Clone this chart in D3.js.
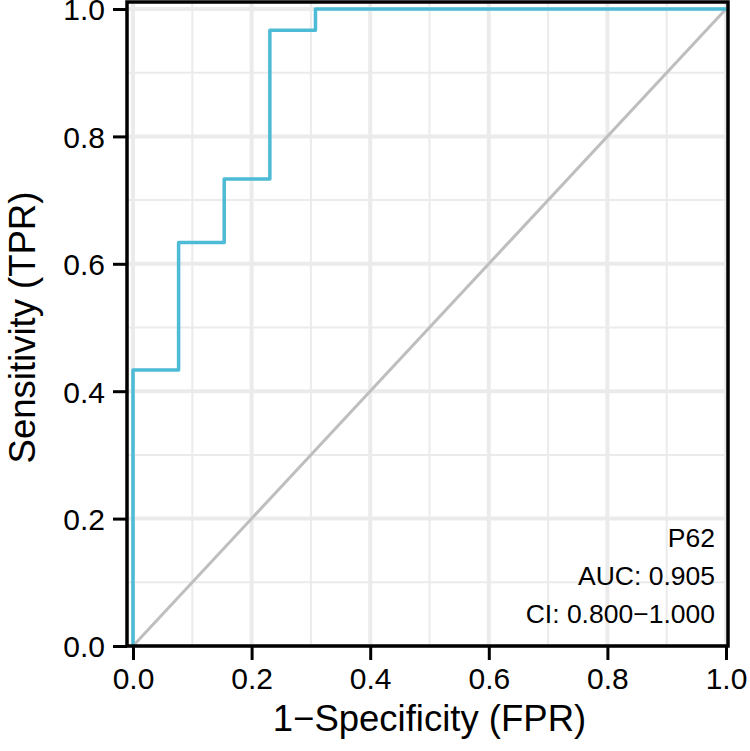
<!DOCTYPE html>
<html><head><meta charset="utf-8">
<script src="https://cdn.jsdelivr.net/npm/d3@7"></script>
<style>body{margin:0;background:#fff;} text{font-family:"Liberation Sans",Arial,sans-serif;}</style>
</head><body><svg id="c" width="750" height="751"></svg>
<script>
const fpr = [0, 0, 0.0769, 0.0769, 0.1538, 0.1538, 0.2308, 0.2308, 0.3077, 0.3077, 1];
const tpr = [0, 0.4333, 0.4333, 0.6333, 0.6333, 0.7333, 0.7333, 0.9667, 0.9667, 1, 1];
const ticks = [0, 0.2, 0.4, 0.6, 0.8, 1.0];
const minorTicks = [0.1, 0.3, 0.5, 0.7, 0.9];
const annot = ["P62", "AUC: 0.905", "CI: 0.800\u22121.000"];

const svg = d3.select("#c");
const x = d3.scaleLinear().domain([0, 1]).range([133, 726]);
const y = d3.scaleLinear().domain([0, 1]).range([646, 9]);
const panel = {l: 127, t: 2, r: 728, b: 646};

const g = svg.append("g");
g.selectAll(".mx").data(minorTicks).join("line")
  .attr("x1", d => x(d)).attr("x2", d => x(d)).attr("y1", panel.t).attr("y2", panel.b)
  .attr("stroke", "#ebebeb").attr("stroke-width", 2);
g.selectAll(".my").data(minorTicks).join("line")
  .attr("y1", d => y(d)).attr("y2", d => y(d)).attr("x1", panel.l).attr("x2", panel.r)
  .attr("stroke", "#ebebeb").attr("stroke-width", 2);
g.selectAll(".Mx").data(ticks).join("line")
  .attr("x1", d => x(d)).attr("x2", d => x(d)).attr("y1", panel.t).attr("y2", panel.b)
  .attr("stroke", "#ebebeb").attr("stroke-width", 4);
g.selectAll(".My").data(ticks).join("line")
  .attr("y1", d => y(d)).attr("y2", d => y(d)).attr("x1", panel.l).attr("x2", panel.r)
  .attr("stroke", "#ebebeb").attr("stroke-width", 4);

svg.append("line").attr("x1", x(0)).attr("y1", y(0)).attr("x2", x(1)).attr("y2", y(1))
  .attr("stroke", "#bebebe").attr("stroke-width", 3);

const pts = fpr.map((f, i) => [f, tpr[i]]);
svg.append("path").datum(pts)
  .attr("d", d3.line().x(d => x(d[0])).y(d => y(d[1])))
  .attr("fill", "none").attr("stroke", "#4DBBD5").attr("stroke-width", 3.5)
  .attr("stroke-linejoin", "round");

svg.append("rect").attr("x", panel.l).attr("y", panel.t)
  .attr("width", panel.r - panel.l).attr("height", panel.b - panel.t)
  .attr("fill", "none").attr("stroke", "#000").attr("stroke-width", 3.5);

const fmt = d3.format(".1f");
const xa = svg.append("g").attr("transform", `translate(0,${panel.b})`)
  .call(d3.axisBottom(x).tickValues(ticks).tickFormat(fmt).tickSize(14).tickPadding(8));
const ya = svg.append("g").attr("transform", `translate(${panel.l},0)`)
  .call(d3.axisLeft(y).tickValues(ticks).tickFormat(fmt).tickSize(14).tickPadding(8));
[xa, ya].forEach(a => {
  a.select(".domain").remove();
  a.selectAll(".tick line").attr("stroke", "#000").attr("stroke-width", 3);
  a.selectAll(".tick text").attr("fill", "#000").style("font-size", "30px")
    .style("font-family", '"Liberation Sans", Arial, sans-serif');
});
ya.selectAll(".tick text").attr("dy", "0.36em");

svg.append("text").attr("x", (x(0) + x(1)) / 2).attr("y", 731).attr("text-anchor", "middle")
  .style("font-size", "36.5px").text("1\u2212Specificity (FPR)");
svg.append("text").attr("transform", `translate(35,${(y(0) + y(1)) / 2}) rotate(-90)`)
  .attr("text-anchor", "middle").style("font-size", "36.5px").text("Sensitivity (TPR)");

svg.selectAll(".ann").data(annot).join("text")
  .attr("x", 715).attr("y", (d, i) => 547 + i * 38).attr("text-anchor", "end")
  .style("font-size", "26.5px").text(d => d);
</script></body></html>
